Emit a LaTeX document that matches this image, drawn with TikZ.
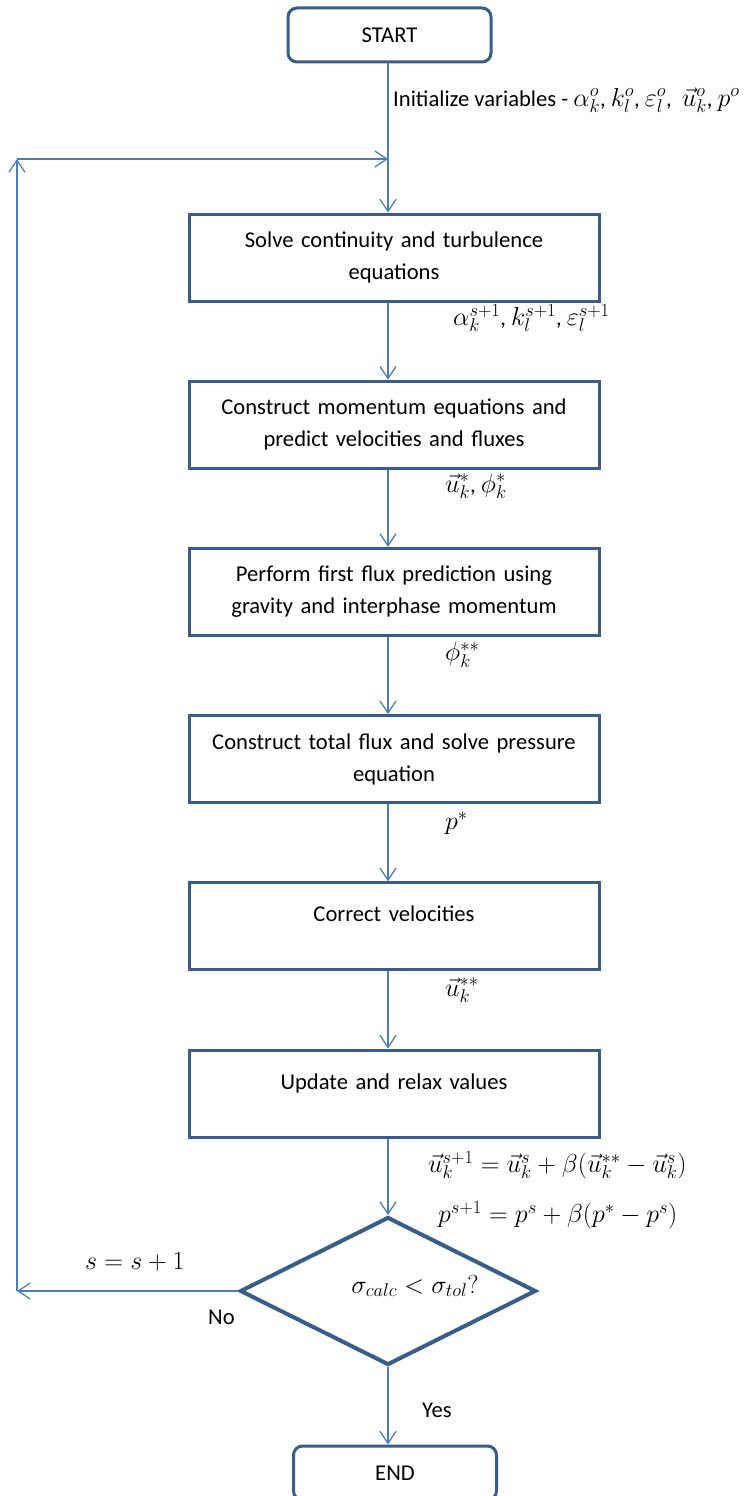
\RequirePackage{fix-cm}
\documentclass[tikz,border=0pt]{standalone}
\usepackage{fontspec}
\setmainfont{Carlito}
\usetikzlibrary{arrows.meta,shapes.geometric,calc}
\definecolor{boxblue}{HTML}{385D8A}
\definecolor{linkblue}{HTML}{4A7EBB}
\DeclareMathSizes{22.6}{26}{18.5}{13.5}

\begin{document}
\begin{tikzpicture}[x=1pt,y=-1pt,
  every node/.style={font=\fontsize{22.6}{32}\selectfont, text=black},
  stepbox/.style={draw=boxblue, line width=3pt, minimum width=410pt,
    minimum height=87pt, text width=395pt, align=center, inner sep=0pt},
  onebox/.style={stepbox, text height=16pt, text depth=25pt},
  terminal/.style={draw=boxblue, line width=3pt, rounded corners=9pt,
    minimum width=203pt, minimum height=54pt, inner sep=0pt},
  decision/.style={diamond, draw=boxblue, line width=4pt,
    minimum width=296pt, minimum height=148pt, inner sep=0pt},
  link/.style={draw=linkblue, line width=1.3pt,
    -{Straight Barb[length=12pt,width=16pt,line width=1.3pt]}},
  note/.style={anchor=west, inner sep=0pt}]

\useasboundingbox (0,0) rectangle (747,1496);

% process chain
\node[terminal] (start) at (389.5,35) {START};
\node[stepbox] (b1) at (394,257.5) {Solve continuity and turbulence\\equations};
\node[stepbox] (b2) at (394,424.7) {Construct momentum equations and\\predict velocities and fluxes};
\node[stepbox] (b3) at (394,591.9) {Perform first flux prediction using\\gravity and interphase momentum};
\node[stepbox] (b4) at (394,759.1) {Construct total flux and solve pressure\\equation};
\node[onebox]  (b5) at (394,926.3) {Correct velocities};
\node[onebox]  (b6) at (394,1093.5) {Update and relax values};
\node[decision, label={[xshift=27pt,yshift=5pt]center:$\sigma_{calc} < \sigma_{tol}?$}] (dec) at (388,1291) {};
\node[terminal] (end) at (395,1473) {END};

% loop-back corners
\coordinate (ret) at (17,1291);
\coordinate (top) at (17,159);
\coordinate (join) at (388,159);

% connectors
\draw[link] (start.south -| dec.north) -- (b1.north -| dec.north);
\draw[link] (b1.south -| dec.north) -- (b2.north -| dec.north);
\draw[link] (b2.south -| dec.north) -- (b3.north -| dec.north);
\draw[link] (b3.south -| dec.north) -- (b4.north -| dec.north);
\draw[link] (b4.south -| dec.north) -- (b5.north -| dec.north);
\draw[link] (b5.south -| dec.north) -- (b6.north -| dec.north);
\draw[link] (b6.south -| dec.north) -- (dec.north);
\draw[link] (dec.south) -- (end.north -| dec.south);
\draw[link] (dec.west) -- (ret);
\draw[link] (ret) -- (top);
\draw[link] (top) -- (join);

% connector labels
\node[note] (init) at (393,100) {Initialize variables - $\alpha^{o}_{k}$, $k^{o}_{l}$, $\varepsilon^{o}_{l}$,\ \ $\vec{u}^{o}_{k}$, $p^{o}$};
\node[note] (q1) at (453,318) {$\alpha^{s+1}_{k}$, $k^{s+1}_{l}$, $\varepsilon^{s+1}_{l}$};
\node[note] (q2) at (445,486) {$\vec{u}^{*}_{k}$, $\phi^{*}_{k}$};
\node[note] (q3) at (445,655) {$\phi^{**}_{k}$};
\node[note] (q4) at (445,823) {$p^{*}$};
\node[note] (q5) at (445,990) {$\vec{u}^{**}_{k}$};
\node[note] (q6) at (428,1165) {$\vec{u}^{s+1}_{k} = \vec{u}^{s}_{k} + \beta(\vec{u}^{**}_{k} - \vec{u}^{s}_{k})$};
\node[note] (q7) at (438,1215) {$p^{s+1} = p^{s} + \beta(p^{*} - p^{s})$};
\node[note] (inc) at (85,1262) {$s = s + 1$};
\node[note] (no) at (208,1317) {No};
\node[note] (yes) at (422,1410) {Yes};

\end{tikzpicture}
\end{document}
